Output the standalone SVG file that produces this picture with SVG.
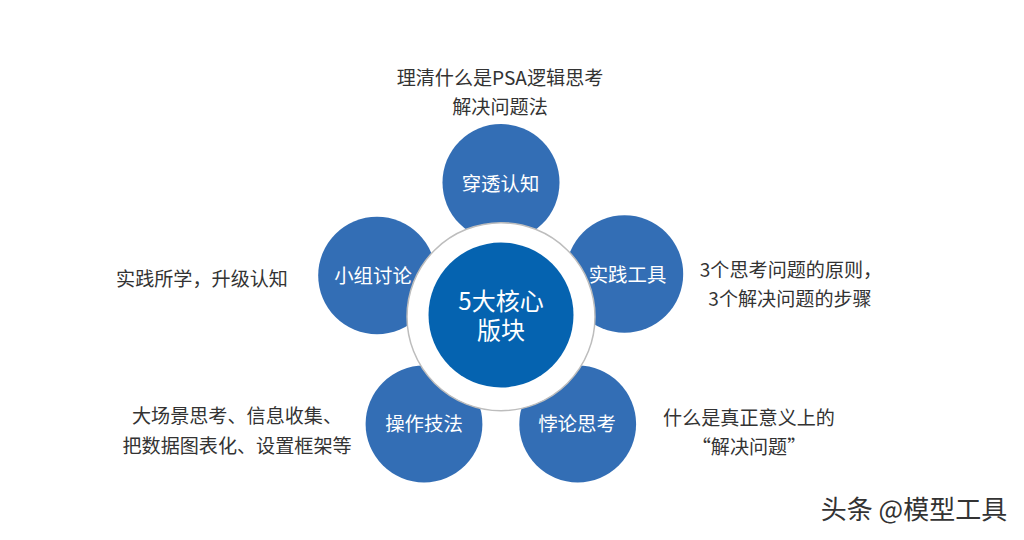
<svg xmlns="http://www.w3.org/2000/svg" width="1024" height="540" viewBox="0 0 1024 540">
<style>
text{font-family:"Noto Sans CJK SC","Noto Sans",sans-serif;text-anchor:middle}
.n{fill:#336eb5}
.w{fill:#fff;font-size:19.4px}
.d{fill:#333;font-size:19.1px}
.c{fill:#fff;font-size:24px}
</style>
<rect width="1024" height="540" fill="#fff"/>
<g id="nodes">
<g id="n1"><circle class="n" cx="501" cy="182.5" r="58.5"/><text class="w" x="500.5" y="190.5">穿透认知</text></g>
<g id="n2"><circle class="n" cx="624.5" cy="274" r="58.7"/><text class="w" x="627.5" y="281.5">实践工具</text></g>
<g id="n3"><circle class="n" cx="577.7" cy="424" r="58.4"/><text class="w" x="577" y="430.5">悖论思考</text></g>
<g id="n4"><circle class="n" cx="424" cy="424" r="58.4"/><text class="w" x="424" y="430.5">操作技法</text></g>
<g id="n5"><circle class="n" cx="377" cy="275.5" r="58.8"/><text class="w" x="373" y="283">小组讨论</text></g>
<g id="center"><circle cx="501" cy="316.7" r="94" fill="#fff" stroke="#bdbdbd" stroke-width="1.5"/><circle cx="501" cy="315" r="72.5" fill="#0563b0"/><text class="c" x="501" y="310">5大核心</text><text class="c" x="501" y="339">版块</text></g>
</g>
<g id="connectors"/>
<g id="labels">
<text class="d" x="500" y="85">理清什么是PSA逻辑思考</text>
<text class="d" x="500" y="114">解决问题法</text>
<text class="d" x="202" y="286">实践所学，升级认知</text>
<text class="d" x="791" y="277">3个思考问题的原则，</text>
<text class="d" x="790" y="306">3个解决问题的步骤</text>
<text class="d" x="237" y="423">大场景思考、信息收集、</text>
<text class="d" x="237" y="453">把数据图表化、设置框架等</text>
<text class="d" x="749" y="425">什么是真正意义上的</text>
<text class="d" x="749" y="454">“解决问题”</text>
<text x="914" y="519" fill="#333" font-size="26px">头条 @模型工具</text>
</g>
</svg>
